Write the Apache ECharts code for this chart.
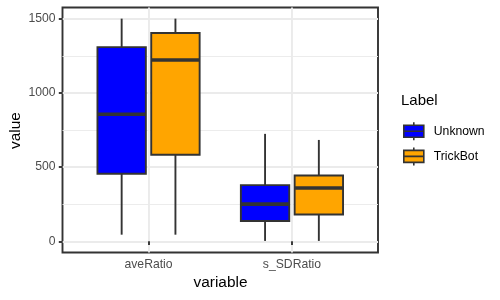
<!DOCTYPE html>
<html>
<head>
<meta charset="utf-8">
<script src="https://cdn.jsdelivr.net/npm/echarts@6/dist/echarts.min.js"></script>
<style>html,body{margin:0;padding:0;background:#fff;}#c{width:500px;height:300px;}</style>
</head>
<body>
<div id="c"></div>
<script>
// ---- data ----
const categories = ['aveRatio', 's_SDRatio'];
const seriesNames = ['Unknown', 'TrickBot'];
// [min, Q1, median, Q3, max] per category
const unknownStats = [[45, 455, 856, 1308, 1500], [3, 137, 251, 379, 724]];
const trickbotStats = [[45, 583, 1221, 1403, 1500], [3, 181, 359, 444, 683]];
const yMajorTicks = [0, 500, 1000, 1500];
const yMinorTicks = [250, 750, 1250];

const colors = ['#0000FF', '#FFA500'];
const FONT = 'Liberation Sans, Arial, Helvetica, sans-serif';
const DARK = '#333333';
const LW = 1.9;
const SMALL = 12.2;
const TITLE = 15.4;
const BOX_W = 0.3375;   // box width in category units
const DODGE = 0.1875;   // offset of each box from category centre

function toData(stats) {
  return stats.map((s, i) => [i + 1].concat(s));
}

function makeRender(offset, color) {
  return function (params, api) {
    const x = api.value(0) + offset;
    const pMin = api.coord([x, api.value(1)]);
    const pQ1 = api.coord([x, api.value(2)]);
    const pMed = api.coord([x, api.value(3)]);
    const pQ3 = api.coord([x, api.value(4)]);
    const pMax = api.coord([x, api.value(5)]);
    const w = api.size([BOX_W, 0])[0];
    const cx = pMed[0];
    const lineStyle = { stroke: DARK, lineWidth: LW };
    return {
      type: 'group',
      children: [
        { type: 'line', shape: { x1: cx, y1: pMax[1], x2: cx, y2: pQ3[1] }, style: lineStyle },
        { type: 'line', shape: { x1: cx, y1: pQ1[1], x2: cx, y2: pMin[1] }, style: lineStyle },
        { type: 'rect', shape: { x: cx - w / 2, y: pQ3[1], width: w, height: pQ1[1] - pQ3[1] },
          style: { fill: color, stroke: DARK, lineWidth: LW } },
        { type: 'line', shape: { x1: cx - w / 2, y1: pMed[1], x2: cx + w / 2, y2: pMed[1] },
          style: { stroke: DARK, lineWidth: 3.6 } }
      ]
    };
  };
}

const keyIcon = 'path://M10,0L10,3M0,3L20,3L20,15L0,15ZM0,9L20,9M10,15L10,18';

const chart = echarts.init(document.getElementById('c'), null, { renderer: 'canvas' });
chart.setOption({
  animation: false,
  backgroundColor: '#ffffff',
  textStyle: { fontFamily: FONT },
  grid: {
    left: 62.5, top: 7.5, width: 315.5, height: 245,
    show: true, borderColor: DARK, borderWidth: LW, backgroundColor: '#ffffff'
  },
  xAxis: {
    type: 'value', min: 0.4, max: 2.6,
    axisLine: { show: false },
    axisTick: { show: true, length: 3.7, customValues: [1, 2], lineStyle: { color: DARK, width: LW } },
    axisLabel: {
      customValues: [1, 2], color: '#4D4D4D', fontSize: SMALL, margin: 6.5, fontFamily: FONT,
      formatter: v => categories[Math.round(v) - 1] || ''
    },
    splitLine: { show: true, lineStyle: { color: '#EBEBEB', width: LW } }
  },
  yAxis: [
    {
      type: 'value', min: -75, max: 1575, position: 'left',
      axisLine: { show: false },
      axisTick: { show: true, inside: false, length: 3.7, customValues: yMajorTicks, lineStyle: { color: DARK, width: LW } },
      axisLabel: { customValues: yMajorTicks, color: '#4D4D4D', fontSize: SMALL, margin: 7, fontFamily: FONT,
        formatter: v => String(v) },
      splitLine: { show: true, lineStyle: { color: '#EBEBEB', width: LW } }
    },
    {
      type: 'value', min: -75, max: 1575, position: 'right',
      axisLine: { show: false },
      axisTick: { show: false, customValues: yMinorTicks },
      axisLabel: { show: false, customValues: yMinorTicks },
      splitLine: { show: true, lineStyle: { color: '#EBEBEB', width: 0.95 } }
    }
  ],
  legend: {
    orient: 'vertical', left: 403, top: 121.5, padding: 0,
    itemWidth: 20, itemHeight: 18, itemGap: 5.5,
    selectedMode: false,
    textStyle: { color: '#000000', fontSize: SMALL, fontFamily: FONT, padding: [0, 0, 0, 5] },
    data: seriesNames.map((n, i) => ({
      name: n, icon: keyIcon,
      itemStyle: { color: colors[i], borderColor: DARK, borderWidth: 1.6 }
    }))
  },
  graphic: [
    { type: 'text', left: 401, top: 93, style: { text: 'Label', fontSize: 15, fill: '#000', fontFamily: FONT } },
    { type: 'text', x: 220.5, y: 282.5, style: { text: 'variable', fontSize: TITLE, fill: '#000', fontFamily: FONT, align: 'center', verticalAlign: 'middle' } },
    { type: 'text', x: 16, y: 130.5, rotation: Math.PI / 2, style: { text: 'value', fontSize: TITLE, fill: '#000', fontFamily: FONT, align: 'center', verticalAlign: 'middle' } }
  ],
  series: [
    {
      name: seriesNames[0], type: 'custom', itemStyle: { color: colors[0] },
      renderItem: makeRender(-DODGE, colors[0]),
      encode: { x: 0, y: [1, 2, 3, 4, 5] },
      data: toData(unknownStats)
    },
    {
      name: seriesNames[1], type: 'custom', itemStyle: { color: colors[1] },
      renderItem: makeRender(DODGE, colors[1]),
      encode: { x: 0, y: [1, 2, 3, 4, 5] },
      data: toData(trickbotStats)
    }
  ]
});
</script>
</body>
</html>
